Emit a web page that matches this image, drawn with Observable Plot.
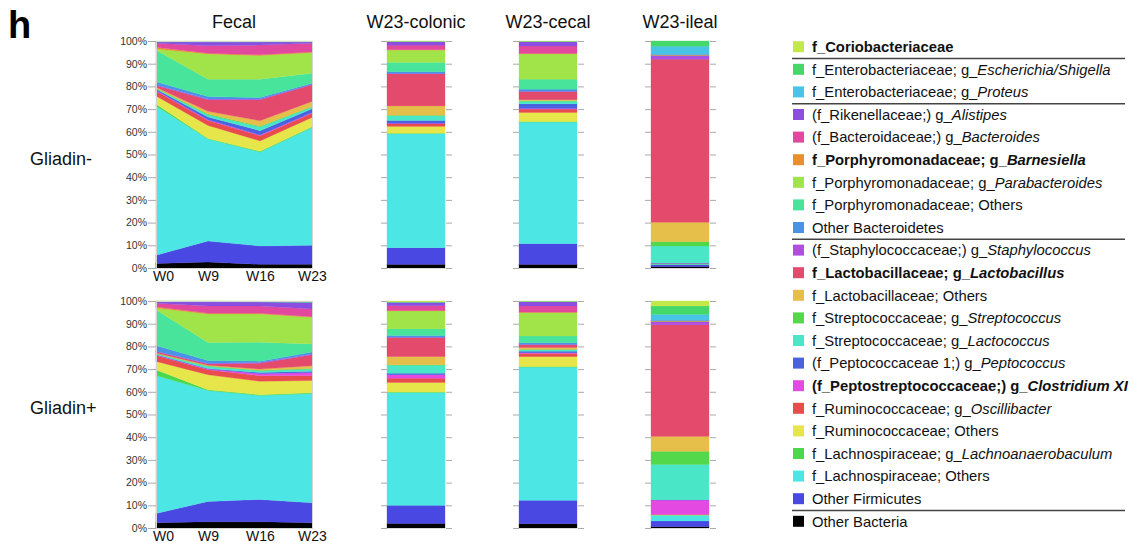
<!DOCTYPE html>
<html><head><meta charset="utf-8">
<script src="https://cdn.jsdelivr.net/npm/d3@7"></script>
<script src="https://cdn.jsdelivr.net/npm/@observablehq/plot@0.6"></script>
<style>
html,body{margin:0;padding:0;background:#fff;}
#root{position:relative;width:1134px;height:543px;overflow:hidden;background:#fff;font-family:"Liberation Sans",Arial,sans-serif;}
#root svg{position:absolute;}
</style></head>
<body><div id="root"></div>
<script>
// ---- taxa (stack order bottom -> top) ----
const taxa = ["OB","OF","LO","LA","RO","OS","CX","PE","LC","ST","LBO","LB","SA","BO","PO","PA","BA","BC","AL","PR","ES","CO"];
const colors = ["#000000","#4a48e2","#4ce6e4","#4ad84e","#e6e64a","#e84c4c","#e44ae2","#4a62e0","#4ae6c8","#52d84a","#e6be4a","#e44a6c","#b04ee0","#4a92e6","#48e49c","#a0e44a","#e8902e","#e2489e","#8c4ee0","#48c4e6","#44d86a","#c3e84a"];
const names = ["Other Bacteria","Other Firmicutes","f_Lachnospiraceae; Others","f_Lachnospiraceae; g_*Lachnoanaerobaculum*","f_Ruminococcaceae; Others","f_Ruminococcaceae; g_*Oscillibacter*","(f_Peptostreptococcaceae;) g_*Clostridium XI*","(f_Peptococcaceae 1;) g_*Peptococcus*","f_Streptococcaceae; g_*Lactococcus*","f_Streptococcaceae; g_*Streptococcus*","f_Lactobacillaceae; Others","f_Lactobacillaceae; g_*Lactobacillus*","(f_Staphylococcaceae;) g_*Staphylococcus*","Other Bacteroidetes","f_Porphyromonadaceae; Others","f_Porphyromonadaceae; g_*Parabacteroides*","f_Porphyromonadaceae; g_*Barnesiella*","(f_Bacteroidaceae;) g_*Bacteroides*","(f_Rikenellaceae;) g_*Alistipes*","f_Enterobacteriaceae; g_*Proteus*","f_Enterobacteriaceae; g_*Escherichia/Shigella*","f_Coriobacteriaceae"];
const boldTaxa = ["CO","BA","LB","CX"];
const separatorsAfter = ["CO","PR","BO","OF"];

const weeks = ["W0","W9","W16","W23"];
const columnTitles = ["Fecal","W23-colonic","W23-cecal","W23-ileal"];
const rowTitles = ["Gliadin-","Gliadin+"];
const yTicks = [0,10,20,30,40,50,60,70,80,90,100];

// ---- cumulative % tops per taxon (bottom -> top) ----
// Gliadin- fecal
const fecalNegW0  = [2,5.6,71.4,72.2,75.8,78,78.3,78.8,79.1,79.3,79.6,80.4,80.7,82.1,96,96.5,97.3,99,99.6,99.7,99.8,100];
const fecalNegW9  = [2.6,11.9,56.8,57.1,62.8,65,65.3,66.5,67.5,67.8,69,74.1,74.4,75.5,83.2,94.3,94.6,97.9,99.6,99.7,99.8,100];
const fecalNegW16 = [1.6,9.7,51.1,51.4,56,58.3,58.6,60.5,62.2,62.5,64.9,74.1,74.4,75.1,83.2,93.6,93.9,98.2,99.6,99.7,99.8,100];
const fecalNegW23 = [1.6,10,61.9,62.2,66.3,68.2,68.5,70.1,70.9,71.2,73.4,80.7,81,81.4,85.8,94.9,95.2,99,99.6,99.7,99.8,100];
// Gliadin+ fecal
const fecalPosW0  = [2.3,6.4,67.2,69.7,73.4,76,76.2,76.4,76.7,76.9,77.1,77.7,77.9,80.4,96.2,96.9,97.5,99,99.7,99.8,99.9,100];
const fecalPosW9  = [2.8,11.7,60.6,60.9,67.5,69.7,70,70.3,71.2,71.4,71.7,72.3,72.6,73.8,81.7,94.3,94.6,97.8,99.7,99.8,99.9,100];
const fecalPosW16 = [2.8,12.6,58.4,58.7,64.6,67.1,68,68.5,69.3,69.5,70,72.6,72.9,73.5,81.8,94.3,94.6,97.8,99.6,99.7,99.8,100];
const fecalPosW23 = [2.3,11.1,59.3,59.6,65,67.1,68.5,69.1,70,70.3,71.5,76.3,76.6,77.5,81.1,92.8,93.1,96.5,99.4,99.5,99.6,100];
// W23 gut sections
const colonicNeg = [1.6,8.9,59.2,59.4,62.4,63.5,63.8,65,67.1,67.3,71.4,85.5,85.7,86.5,90.6,96,96.2,98.2,99.7,99.8,99.9,100];
const cecalNeg   = [1.6,10.7,64.3,64.5,68.5,70,70.3,72.3,73.4,73.7,74.1,77.7,77.9,78.8,83.2,94.3,94.5,97.8,99.7,99.8,99.9,100];
const ilealNeg   = [0.6,1.5,1.7,1.8,1.9,2,2.1,2.2,9.7,11.6,20.2,92,93.4,93.5,93.6,93.7,93.8,93.9,94,97.7,100,100];
const colonicPos = [2,10,59.7,59.9,64.1,66,67.5,68.2,71.7,71.9,75.5,83.9,84.1,84.8,87.7,95.6,95.8,97.9,99.4,99.5,99.6,100];
const cecalPos   = [1.9,12.2,70.9,71.1,75.5,76.9,77.2,77.9,78.5,78.7,79.5,80.7,80.9,81.6,84.6,94.9,95.1,97.8,99.7,99.8,99.9,100];
const ilealPos   = [0.6,3.1,5.6,5.7,5.8,5.9,12.3,12.4,28,33.8,40.4,89.5,90.8,90.9,91,91.1,91.2,91.3,91.4,94.1,97.8,100];

// ---- helpers ----
function toRows(cum, key, field) {
  return cum.map((v, i) => ({[field]: key, taxon: taxa[i], value: Math.max(0, v - (i ? cum[i-1] : 0))}));
}
const root = document.getElementById("root");
const FONT = "Liberation Sans, Arial, sans-serif";
function place(node, left, top) {
  node.style.position = "absolute";
  node.style.left = left + "px";
  node.style.top = top + "px";
  root.appendChild(node);
}
const colorScale = {domain: taxa, range: colors};

const rowsGeom = [{top: 41, bottom: 268}, {top: 301, bottom: 528}];
const fecalSets = [[fecalNegW0,fecalNegW9,fecalNegW16,fecalNegW23],[fecalPosW0,fecalPosW9,fecalPosW16,fecalPosW23]];
const barSets = [[colonicNeg,cecalNeg,ilealNeg],[colonicPos,cecalPos,ilealPos]];
const barLefts = [387, 519, 651];
const barWidth = 58;

rowsGeom.forEach((g, r) => {
  const mt = 11, mb = 22, ph = g.bottom - g.top;
  // Fecal area chart
  const rows = weeks.flatMap((w, j) => toRows(fecalSets[r][j], w, "week"));
  const ml = 46, mr = 20, plotL = 156, plotW = 156;
  const fecal = Plot.plot({
    width: ml + plotW + mr, height: mt + ph + mb,
    marginLeft: ml, marginRight: mr, marginTop: mt, marginBottom: mb,
    style: {fontFamily: FONT, background: "transparent", overflow: "visible"},
    x: {type: "point", domain: weeks, padding: 0, label: null},
    y: {domain: [0, 100], label: null},
    color: colorScale,
    marks: [
      Plot.areaY(rows, {x: "week", y: "value", z: "taxon", fill: "taxon", stroke: "taxon", strokeWidth: 0.3, order: taxa}),
      Plot.frame({stroke: "#d4d4d4"}),
      Plot.axisY(yTicks, {tickSize: 8, tickPadding: 1.5, tickFormat: d => d + "%", fontSize: 10.5, stroke: "#aaa", fill: "#333", label: null}),
      Plot.axisX(["W0"], {tickSize: 0, tickPadding: 3, fontSize: 14, fill: "#111", dx: 7, label: null}),
      Plot.axisX(["W9","W16","W23"], {tickSize: 0, tickPadding: 3, fontSize: 14, fill: "#111", label: null})
    ]
  });
  place(fecal, plotL - ml, g.top - mt);

  // W23 bars
  barSets[r].forEach((cum, k) => {
    const name = columnTitles[k + 1];
    const bm = 10;
    const bar = Plot.plot({
      width: bm + barWidth + bm, height: mt + ph + mb,
      marginLeft: bm, marginRight: bm, marginTop: mt, marginBottom: mb,
      style: {fontFamily: FONT, background: "transparent", overflow: "visible"},
      x: {type: "band", domain: [name], padding: 0, axis: null},
      y: {domain: [0, 100], label: null},
      color: colorScale,
      marks: [
        Plot.barY(toRows(cum, name, "sample"), {x: "sample", y: "value", fill: "taxon", stroke: "taxon", strokeWidth: 0.3, order: taxa}),
        Plot.axisY(yTicks, {anchor: "left", tickSize: 6, tickFormat: () => "", stroke: "#aaa", label: null}),
        Plot.axisY(yTicks, {anchor: "right", tickSize: 6, tickFormat: () => "", stroke: "#aaa", label: null})
      ]
    });
    place(bar, barLefts[k] - bm, g.top - mt);
  });
});

// ---- overlay text: panel label, titles, row labels, legend ----
const svg = d3.create("svg").attr("width", 1134).attr("height", 543)
  .style("left", "0px").style("top", "0px").style("font-family", FONT);
svg.append("text").attr("x", 8).attr("y", 38).attr("font-size", 38).attr("font-weight", "bold").attr("fill", "#000").text("h");
const titleX = [234, 416, 548, 680];
columnTitles.forEach((t, i) => svg.append("text").attr("x", titleX[i]).attr("y", 28).attr("text-anchor", "middle")
  .attr("font-size", 18).attr("fill", "#111").text(t));
const rowY = [164.5, 413.5];
rowTitles.forEach((t, i) => svg.append("text").attr("x", 30).attr("y", rowY[i])
  .attr("font-size", 18).attr("fill", "#111").text(t));

const legendOrder = taxa.slice().reverse();
legendOrder.forEach((key, i) => {
  const idx = taxa.indexOf(key);
  const cy = 46.7 + 22.6 * i;
  svg.append("rect").attr("x", 793).attr("y", cy - 5.5).attr("width", 11).attr("height", 11).attr("fill", colors[idx]);
  const t = svg.append("text").attr("x", 812).attr("y", cy + 5.3).attr("font-size", 14.8).attr("fill", "#111")
    .attr("font-weight", boldTaxa.includes(key) ? "bold" : null);
  names[idx].split("*").forEach((part, j) => {
    if (!part) return;
    const s = t.append("tspan").text(part);
    if (j % 2 === 1) s.attr("font-style", "italic");
  });
  if (separatorsAfter.includes(key)) {
    svg.append("line").attr("x1", 792).attr("x2", 1125).attr("y1", cy + 11.8).attr("y2", cy + 11.8)
      .attr("stroke", "#444").attr("stroke-width", 1.4);
  }
});
root.appendChild(svg.node());
</script>
</body></html>
